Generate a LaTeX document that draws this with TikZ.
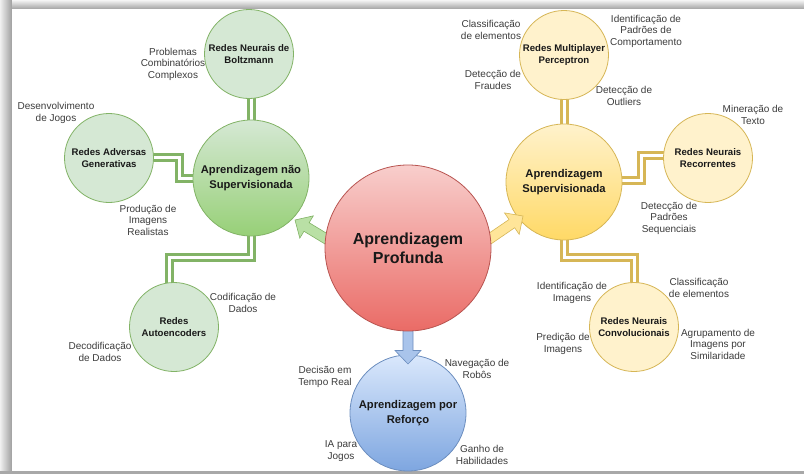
\documentclass[tikz,border=0pt]{standalone}
\usepackage{fontspec}
\setmainfont{Liberation Sans}
\usetikzlibrary{calc,backgrounds}

\definecolor{gstroke}{HTML}{82B366}
\definecolor{gfill}{HTML}{D5E8D4}
\definecolor{gdark}{HTML}{97D077}
\definecolor{garrow}{HTML}{B9E0A5}
\definecolor{ystroke}{HTML}{D6B656}
\definecolor{yfill}{HTML}{FFF2CC}
\definecolor{ydark}{HTML}{FFD966}
\definecolor{yarrow}{HTML}{FFE599}
\definecolor{rstroke}{HTML}{B85450}
\definecolor{rfill}{HTML}{F8CECC}
\definecolor{rdark}{HTML}{EA6B66}
\definecolor{bstroke}{HTML}{6C8EBF}
\definecolor{bfill}{HTML}{DAE8FC}
\definecolor{bdark}{HTML}{7EA6E0}
\definecolor{barrow}{HTML}{A9C4EB}
\definecolor{lbltext}{HTML}{3C3C3C}

% block arrow from #1 (tail) to #2 (tip), style #3
\newcommand\blkarrow[3]{%
  \coordinate (#1-#2-base) at ($(#2)!13.5pt!(#1)$);
  \draw[#3] ($(#1)!5pt!90:(#2)$) -- ($(#1-#2-base)!5pt!90:(#2)$)
    -- ($(#1-#2-base)!13pt!90:(#2)$) -- (#2)
    -- ($(#1-#2-base)!13pt!-90:(#2)$) -- ($(#1-#2-base)!5pt!-90:(#2)$)
    -- ($(#1)!5pt!-90:(#2)$) -- cycle;}

\tikzset{
  every node/.style={inner sep=0pt, outer sep=0pt},
  small/.style={circle, draw=#1stroke, fill=#1fill, line width=0.8pt,
    minimum size=89pt, align=center, text=black!90,
    font=\fontsize{9.6}{12}\selectfont\bfseries},
  big/.style={circle, draw=#1stroke, top color=#1fill, bottom color=#1dark,
    line width=0.8pt, minimum size=116pt, align=center, text=black!90,
    font=\fontsize{11.2}{14.5}\selectfont\bfseries},
  deepnode/.style={circle, draw=rstroke, top color=rfill, bottom color=rdark,
    line width=0.8pt, minimum size=166pt, align=center, text=black!90,
    font=\fontsize{16}{19}\selectfont\bfseries},
  lbl/.style={align=center, text=lbltext, font=\fontsize{10}{11.5}\selectfont},
  link/.style={draw=#1stroke, line width=9pt, line join=miter,
    postaction={draw=white, line width=3pt}},
  blk/.style={draw=#1stroke, fill=#1arrow, line width=0.6pt, line join=miter},
}

\begin{document}
\begin{tikzpicture}[x=1pt, y=-1pt]
\useasboundingbox (0,0) rectangle (804,474);

% unsupervised branch
\node[small=g] (bolt) at (249,54) {Redes Neurais de\\Boltzmann};
\node[small=g] (adv) at (109,158) {Redes Adversas\\Generativas};
\node[small=g] (auto) at (174,327) {Redes\\Autoencoders};
\node[big=g] (uns) at (251,178) {Aprendizagem não\\Supervisionada};

% supervised branch
\node[small=y] (mlp) at (564,55) {Redes Multiplayer\\Perceptron};
\node[small=y] (rnn) at (708,158) {Redes Neurais\\Recorrentes};
\node[small=y] (cnn) at (634,327) {Redes Neurais\\Convolucionais};
\node[big=y] (sup) at (564,182) {Aprendizagem\\Supervisionada};

% reinforcement
\node[big=b] (ref) at (408,413) {Aprendizagem por\\Reforço};

% block arrows out of the centre
\coordinate (gt) at (333,243); \coordinate (gh) at (295,220);
\coordinate (yt) at (485,242); \coordinate (yh) at (523,216);
\coordinate (bt) at (408,322); \coordinate (bh) at (408,364);
\blkarrow{gt}{gh}{blk=g}
\blkarrow{yt}{yh}{blk=y}
\blkarrow{bt}{bh}{blk=b}

% centre
\node[deepnode] (deep) at (408,248) {Aprendizagem\\Profunda};

\begin{scope}[on background layer]
  % panel with drop shadow
  \shade[left color=black!6, right color=black!38] (0,0) rectangle (12,474);
  \shade[top color=black!4, bottom color=black!36] (12,0) rectangle (804,9);
  \fill[black!34] (0,471) rectangle (804,474);
  \fill[white] (12,9) rectangle (804,471);
  % double links behind the circles
  \draw[link=g] (uns) -- (uns |- bolt);
  \draw[link=g] (adv |- 0,157) -| (179,178) -- (uns);
  \draw[link=g] (uns) -- (uns |- 0,257) -| ([xshift=-5pt]auto.center);
  \draw[link=y] (sup) -- (sup |- mlp);
  \draw[link=y] (sup |- 0,180) -| (641,155) -- (rnn |- 0,155);
  \draw[link=y] (sup) -- (sup |- 0,257) -| (cnn);
\end{scope}

% application labels
\node[lbl] (l-prob) at (173,64) {Problemas\\Combinatórios\\Complexos};
\node[lbl] (l-jogos) at (56,113) {Desenvolvimento\\de Jogos};
\node[lbl] (l-img) at (148,220) {Produção de\\Imagens\\Realistas};
\node[lbl] (l-cod) at (243,303) {Codificação de\\Dados};
\node[lbl] (l-dec) at (100,352) {Decodificação\\de Dados};
\node[lbl] (l-cls1) at (491,30) {Classificação\\de elementos};
\node[lbl] (l-pad) at (646,31) {Identificação de\\Padrões de\\Comportamento};
\node[lbl] (l-fra) at (493,80) {Detecção de\\Fraudes};
\node[lbl] (l-out) at (624,96) {Detecção de\\Outliers};
\node[lbl] (l-min) at (753,115) {Mineração de\\Texto};
\node[lbl] (l-seq) at (669,218) {Detecção de\\Padrões\\Sequenciais};
\node[lbl] (l-idi) at (572,293) {Identificação de\\Imagens};
\node[lbl] (l-cls2) at (699,288) {Classificação\\de elementos};
\node[lbl] (l-pre) at (563,344) {Predição de\\Imagens};
\node[lbl] (l-agr) at (718,344) {Agrupamento de\\Imagens por\\Similaridade};
\node[lbl] (l-dtr) at (325,377) {Decisão em\\Tempo Real};
\node[lbl] (l-nav) at (477,369) {Navegação de\\Robôs};
\node[lbl] (l-ia) at (341,451) {IA para\\Jogos};
\node[lbl] (l-gan) at (482,455) {Ganho de\\Habilidades};
\end{tikzpicture}
\end{document}
